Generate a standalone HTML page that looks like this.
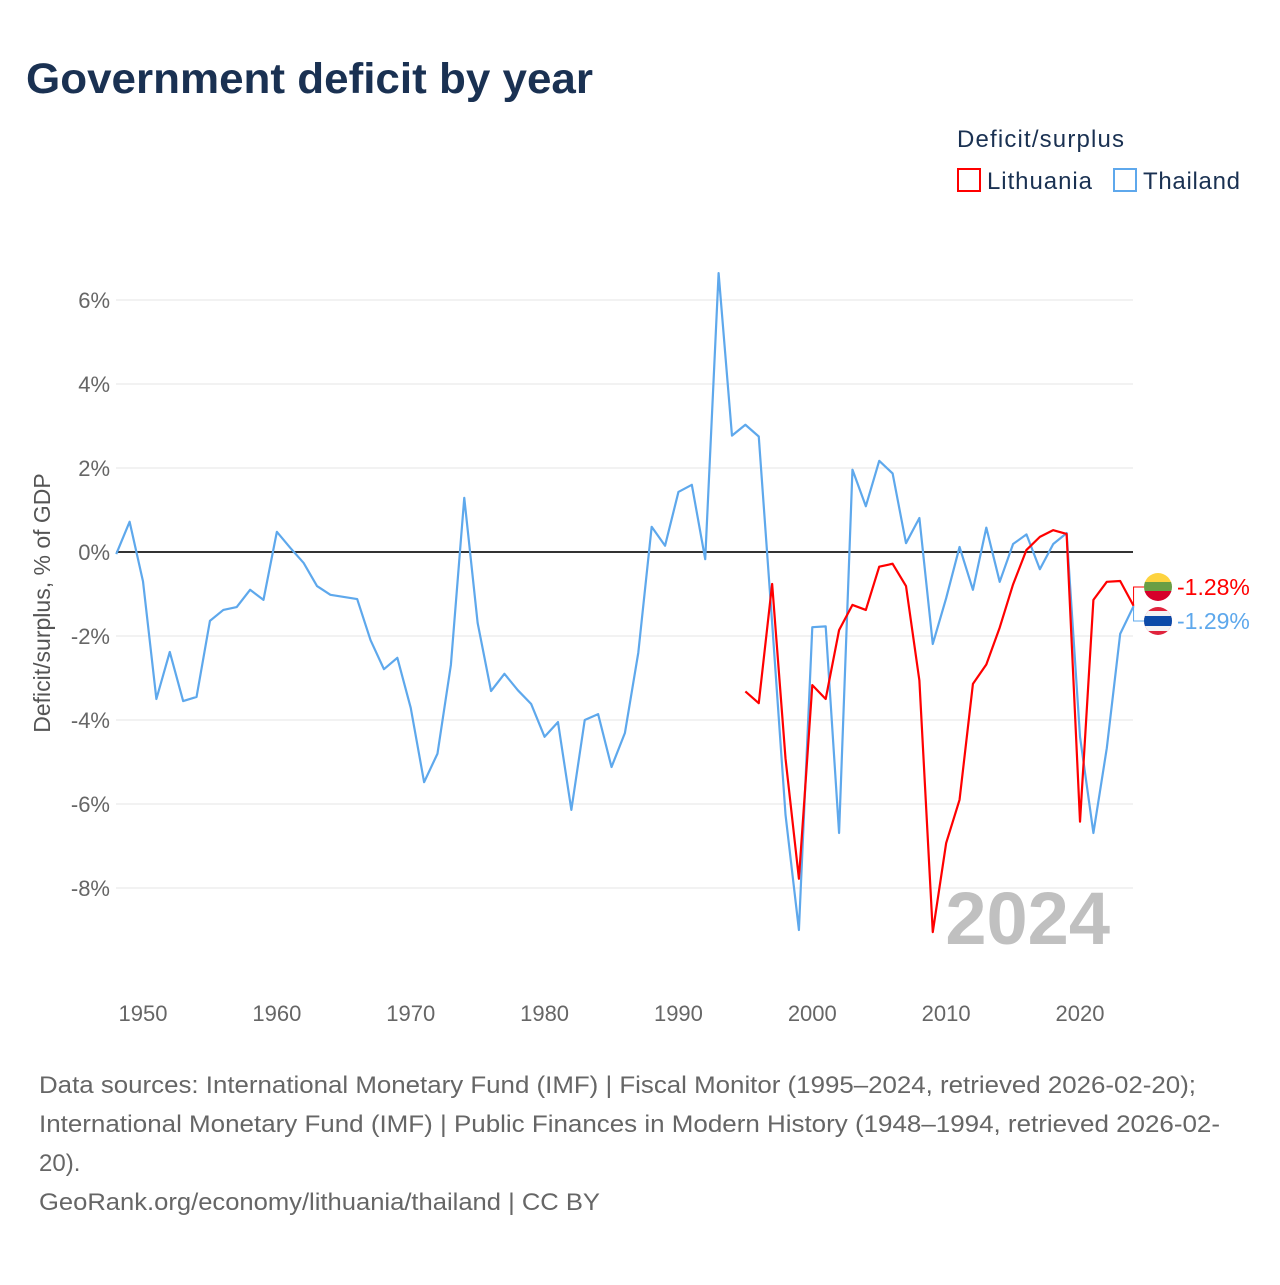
<!DOCTYPE html>
<html><head><meta charset="utf-8"><style>
body{margin:0;background:#fff;font-family:"Liberation Sans",sans-serif}
svg text{font-family:"Liberation Sans",sans-serif}
</style></head><body>
<svg id="c" width="1280" height="1280" xmlns="http://www.w3.org/2000/svg">
<text x="26" y="93" font-size="43" font-weight="bold" fill="#1a3152" textLength="567" lengthAdjust="spacingAndGlyphs">Government deficit by year</text>
<text x="957" y="147" font-size="24" fill="#1a3152" textLength="167">Deficit/surplus</text>
<g><rect x="958" y="169" width="22" height="22" fill="none" stroke="#f00" stroke-width="2"/><text x="987" y="189" font-size="24" fill="#1a3152" textLength="105">Lithuania</text></g>
<g><rect x="1114" y="169" width="22" height="22" fill="none" stroke="#5ea8ec" stroke-width="2"/><text x="1143" y="189" font-size="24" fill="#1a3152" textLength="97">Thailand</text></g>
<g id="grid"></g><g id="marks"></g>
<text x="1110" y="944" text-anchor="end" font-size="74" font-weight="bold" fill="#c0c0c0">2024</text>
<text transform="translate(50,603) rotate(-90)" text-anchor="middle" font-size="23" fill="#555">Deficit/surplus, % of GDP</text>
<g font-size="24" fill="#666">
<text x="39" y="1093" textLength="1157" lengthAdjust="spacingAndGlyphs">Data sources: International Monetary Fund (IMF) | Fiscal Monitor (1995–2024, retrieved 2026-02-20);</text>
<text x="39" y="1132" textLength="1181" lengthAdjust="spacingAndGlyphs">International Monetary Fund (IMF) | Public Finances in Modern History (1948–1994, retrieved 2026-02-</text>
<text x="39" y="1171">20).</text>
<text x="39" y="1210" textLength="561" lengthAdjust="spacingAndGlyphs">GeoRank.org/economy/lithuania/thailand | CC BY</text>
</g>
</svg>
<script>
const thYears=[1948,1949,1950,1951,1952,1953,1954,1955,1956,1957,1958,1959,1960,1961,1962,1963,1964,1965,1966,1967,1968,1969,1970,1971,1972,1973,1974,1975,1976,1977,1978,1979,1980,1981,1982,1983,1984,1985,1986,1987,1988,1989,1990,1991,1992,1993,1994,1995,1996,1997,1998,1999,2000,2001,2002,2003,2004,2005,2006,2007,2008,2009,2010,2011,2012,2013,2014,2015,2016,2017,2018,2019,2020,2021,2022,2023,2024];
const thValues=[-0.05,0.72,-0.7,-3.5,-2.38,-3.55,-3.45,-1.64,-1.38,-1.31,-0.9,-1.14,0.48,0.1,-0.26,-0.81,-1.02,-1.07,-1.12,-2.1,-2.79,-2.52,-3.71,-5.48,-4.8,-2.69,1.29,-1.69,-3.31,-2.9,-3.29,-3.62,-4.4,-4.05,-6.14,-4.0,-3.86,-5.12,-4.31,-2.4,0.6,0.15,1.43,1.6,-0.17,6.64,2.77,3.03,2.75,-1.69,-6.26,-9.0,-1.79,-1.77,-6.69,1.96,1.09,2.17,1.87,0.21,0.81,-2.19,-1.1,0.12,-0.9,0.58,-0.71,0.19,0.42,-0.41,0.19,0.45,-4.4,-6.69,-4.67,-1.95,-1.29];
const ltYears=[1995,1996,1997,1998,1999,2000,2001,2002,2003,2004,2005,2006,2007,2008,2009,2010,2011,2012,2013,2014,2015,2016,2017,2018,2019,2020,2021,2022,2023,2024];
const ltValues=[-3.32,-3.6,-0.76,-4.92,-7.78,-3.17,-3.5,-1.86,-1.26,-1.38,-0.35,-0.28,-0.81,-3.06,-9.05,-6.93,-5.9,-3.14,-2.68,-1.8,-0.77,0.05,0.36,0.52,0.43,-6.42,-1.14,-0.71,-0.69,-1.28];
const yTicks=[6,4,2,0,-2,-4,-6,-8];
const xTicks=[1950,1960,1970,1980,1990,2000,2010,2020];
const NS="http://www.w3.org/2000/svg";
const X=yr=>143+(yr-1950)*13.386;
const Y=v=>552-v*42;
const grid=document.getElementById('grid'),marks=document.getElementById('marks');
function mk(tag,at,parent){const e=document.createElementNS(NS,tag);for(const k in at)e.setAttribute(k,at[k]);parent.appendChild(e);return e;}
yTicks.forEach(v=>{
  const l=mk('line',{x1:116,x2:1133,y1:Y(v),y2:Y(v),stroke:v===0?'#333':'#e6e6e6','stroke-width':v===0?2:1},grid);
  
  
  const t=mk('text',{x:110,y:Y(v)+8,'text-anchor':'end','font-size':22,fill:'#666'},grid);
  t.textContent=v+'%';
  
  
});
xTicks.forEach(yr=>{
  const t=mk('text',{x:X(yr),y:1021,'text-anchor':'middle','font-size':22,fill:'#666'},grid);
  t.textContent=yr;
  
  
});
function line(ys,vs,col,name){
  const p=mk('polyline',{points:ys.map((y,i)=>X(y)+','+Y(vs[i])).join(' '),fill:'none',stroke:col,'stroke-width':2.2,'stroke-linejoin':'round'},marks);
  
  
}
line(thYears,thValues,'#5ea8ec','thailand-line');
line(ltYears,ltValues,'#f00','lithuania-line');
const ltLast=ltValues[ltValues.length-1],thLast=thValues[thValues.length-1];
const xe=X(2024);
const c1=mk('polyline',{points:`${xe},${Y(ltLast)} ${xe},587 1144,587`,fill:'none',stroke:'#f00','stroke-width':1},marks);


const c2=mk('polyline',{points:`${xe},${Y(thLast)} ${xe},621 1144,621`,fill:'none',stroke:'#5ea8ec','stroke-width':1},marks);


const defs=mk('defs',{},marks);
const cp1=mk('clipPath',{id:'f1'},defs);mk('circle',{cx:1158,cy:587,r:14},cp1);
const cp2=mk('clipPath',{id:'f2'},defs);mk('circle',{cx:1158,cy:621,r:14},cp2);
const g1=mk('g',{'clip-path':'url(#f1)'},marks);


mk('rect',{x:1144,y:573,width:28,height:10,fill:'#fdd33f'},g1);
mk('rect',{x:1144,y:582,width:28,height:10,fill:'#6a9e45'},g1);
mk('rect',{x:1144,y:591,width:28,height:10,fill:'#d6002a'},g1);
const g2=mk('g',{'clip-path':'url(#f2)'},marks);


mk('rect',{x:1144,y:607,width:28,height:28,fill:'#e0233d'},g2);
mk('rect',{x:1144,y:611,width:28,height:20,fill:'#f4f4f4'},g2);
mk('rect',{x:1144,y:616,width:28,height:10,fill:'#0c4aa8'},g2);
const t1=mk('text',{x:1177,y:595,'font-size':23,fill:'#f00'},marks);
t1.textContent=ltLast.toFixed(2)+'%';


const t2=mk('text',{x:1177,y:629,'font-size':23,fill:'#5ea8ec'},marks);
t2.textContent=thLast.toFixed(2)+'%';


</script>
</body></html>
